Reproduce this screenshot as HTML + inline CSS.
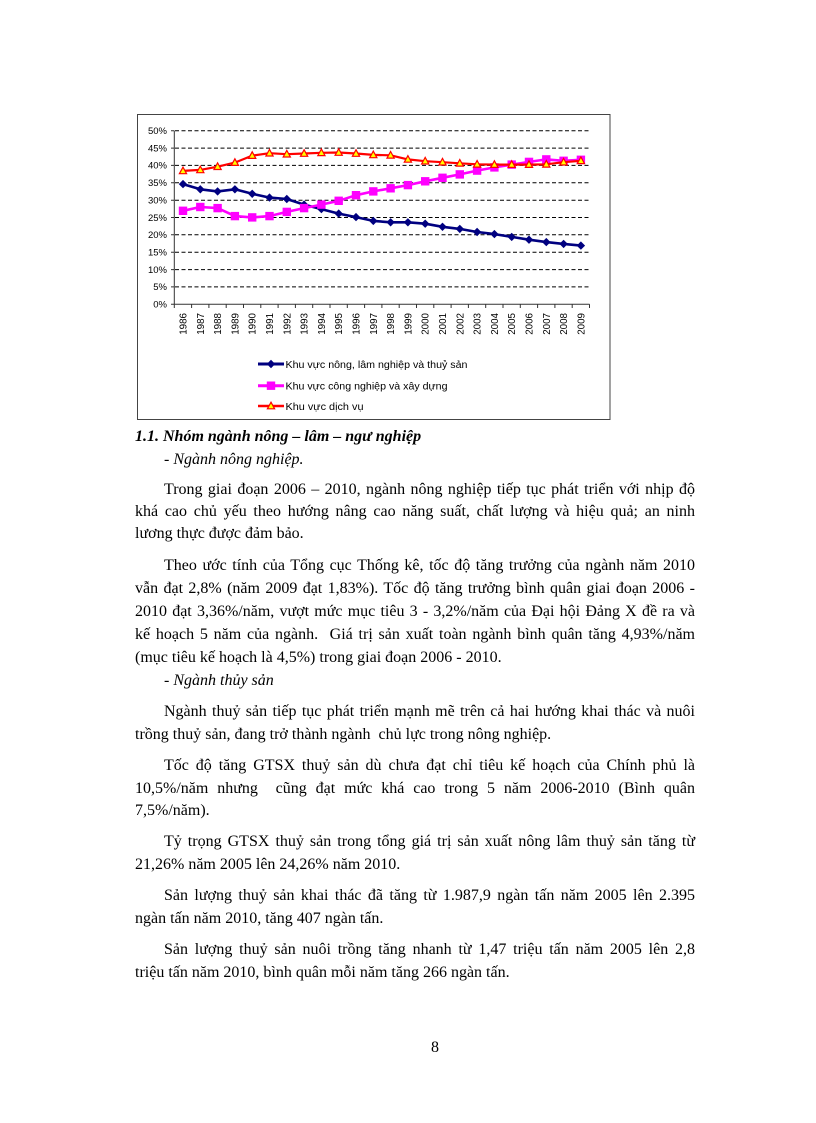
<!DOCTYPE html>
<html>
<head>
<meta charset="utf-8">
<style>
  html, body { margin:0; padding:0; background:#fff; }
  body { width:816px; height:1123px; position:relative; overflow:hidden;
         font-family:"Liberation Serif", "Noto Serif CJK SC", serif; color:#000; }
  svg.chart { position:absolute; left:0; top:0; }
  .l { position:absolute; height:22px; line-height:22px; font-size:16px; white-space:nowrap; }
  .j { text-align:justify; text-align-last:justify; }
  .f { left:135px; width:560px; }
  .i { left:164px; width:531px; }
  .h { left:135px; font-weight:bold; font-style:italic; }
  .it { font-style:italic; }
</style>
</head>
<body>
<svg class="chart" width="816" height="440" viewBox="0 0 816 440" xmlns="http://www.w3.org/2000/svg">
  <rect x="137.5" y="114.5" width="472.5" height="305" fill="#fff" stroke="#444" stroke-width="1"/>
  <g stroke="#000" stroke-width="1" stroke-dasharray="4 2.5" fill="none">
    <line x1="175" y1="130.7" x2="590" y2="130.7"/>
    <line x1="175" y1="148.1" x2="590" y2="148.1"/>
    <line x1="175" y1="165.4" x2="590" y2="165.4"/>
    <line x1="175" y1="182.8" x2="590" y2="182.8"/>
    <line x1="175" y1="200.2" x2="590" y2="200.2"/>
    <line x1="175" y1="217.5" x2="590" y2="217.5"/>
    <line x1="175" y1="234.8" x2="590" y2="234.8"/>
    <line x1="175" y1="252.2" x2="590" y2="252.2"/>
    <line x1="175" y1="269.6" x2="590" y2="269.6"/>
    <line x1="175" y1="286.9" x2="590" y2="286.9"/>
  </g>
  <g stroke="#333" stroke-width="1" fill="none">
    <line x1="174.3" y1="130.7" x2="174.3" y2="304.3"/>
    <line x1="174.3" y1="304.3" x2="589.5" y2="304.3"/>
    <path d="M171,130.7H174.3M171,148.1H174.3M171,165.4H174.3M171,182.8H174.3M171,200.2H174.3M171,217.5H174.3M171,234.8H174.3M171,252.2H174.3M171,269.6H174.3M171,286.9H174.3M171,304.3H174.3"/>
    <path d="M174.3,304.3V308M191.6,304.3V308M208.9,304.3V308M226.2,304.3V308M243.5,304.3V308M260.8,304.3V308M278.1,304.3V308M295.4,304.3V308M312.7,304.3V308M330,304.3V308M347.3,304.3V308M364.6,304.3V308M381.9,304.3V308M399.2,304.3V308M416.5,304.3V308M433.8,304.3V308M451.1,304.3V308M468.4,304.3V308M485.7,304.3V308M503,304.3V308M520.3,304.3V308M537.6,304.3V308M554.9,304.3V308M572.2,304.3V308M589.5,304.3V308"/>
  </g>
  <g font-family="Liberation Sans, sans-serif" font-size="9.5" fill="#000" text-anchor="end">
    <text x="167" y="134">50%</text>
    <text x="167" y="151.4">45%</text>
    <text x="167" y="168.7">40%</text>
    <text x="167" y="186.1">35%</text>
    <text x="167" y="203.5">30%</text>
    <text x="167" y="220.8">25%</text>
    <text x="167" y="238.1">20%</text>
    <text x="167" y="255.5">15%</text>
    <text x="167" y="272.9">10%</text>
    <text x="167" y="290.2">5%</text>
    <text x="167" y="307.6">0%</text>
  </g>
  <g font-family="Liberation Sans, sans-serif" font-size="9.8" fill="#000" text-anchor="end">
    <text transform="translate(186.5,313) rotate(-90)">1986</text>
    <text transform="translate(203.8,313) rotate(-90)">1987</text>
    <text transform="translate(221.1,313) rotate(-90)">1988</text>
    <text transform="translate(238.4,313) rotate(-90)">1989</text>
    <text transform="translate(255.7,313) rotate(-90)">1990</text>
    <text transform="translate(273,313) rotate(-90)">1991</text>
    <text transform="translate(290.3,313) rotate(-90)">1992</text>
    <text transform="translate(307.6,313) rotate(-90)">1993</text>
    <text transform="translate(324.9,313) rotate(-90)">1994</text>
    <text transform="translate(342.2,313) rotate(-90)">1995</text>
    <text transform="translate(359.5,313) rotate(-90)">1996</text>
    <text transform="translate(376.8,313) rotate(-90)">1997</text>
    <text transform="translate(394.1,313) rotate(-90)">1998</text>
    <text transform="translate(411.4,313) rotate(-90)">1999</text>
    <text transform="translate(428.7,313) rotate(-90)">2000</text>
    <text transform="translate(446,313) rotate(-90)">2001</text>
    <text transform="translate(463.3,313) rotate(-90)">2002</text>
    <text transform="translate(480.6,313) rotate(-90)">2003</text>
    <text transform="translate(497.9,313) rotate(-90)">2004</text>
    <text transform="translate(515.2,313) rotate(-90)">2005</text>
    <text transform="translate(532.5,313) rotate(-90)">2006</text>
    <text transform="translate(549.8,313) rotate(-90)">2007</text>
    <text transform="translate(567.1,313) rotate(-90)">2008</text>
    <text transform="translate(584.4,313) rotate(-90)">2009</text>
  </g>
  <defs>
    <path id="dm" d="M0,-4.2L4.2,0L0,4.2L-4.2,0Z" fill="#000080"/>
    <rect id="sq" x="-4.2" y="-4.2" width="8.4" height="8.4" fill="#FF00FF"/>
    <path id="tr" d="M0,-3.8L3.6,2.8L-3.6,2.8Z" fill="#FFFF00" stroke="#FF0000" stroke-width="1.2"/>
  </defs>
  <!-- Blue series -->
  <polyline fill="none" stroke="#000080" stroke-width="2.6" stroke-linejoin="round"
    points="183,184.1 200.3,189.3 217.6,191.4 234.9,189.3 252.2,193.8 269.5,197.6 286.8,199 304.1,204.6 321.4,209.1 338.7,213.6 356,217.1 373.3,220.9 390.6,222.3 407.9,222.3 425.2,223.7 442.5,226.8 459.8,228.9 477.1,232 494.4,234.1 511.7,236.9 529,239.7 546.3,242.1 563.6,243.9 580.9,245.6"/>
  <g>
    <use href="#dm" x="183" y="184.1"/><use href="#dm" x="200.3" y="189.3"/><use href="#dm" x="217.6" y="191.4"/><use href="#dm" x="234.9" y="189.3"/><use href="#dm" x="252.2" y="193.8"/><use href="#dm" x="269.5" y="197.6"/><use href="#dm" x="286.8" y="199"/><use href="#dm" x="304.1" y="204.6"/><use href="#dm" x="321.4" y="209.1"/><use href="#dm" x="338.7" y="213.6"/><use href="#dm" x="356" y="217.1"/><use href="#dm" x="373.3" y="220.9"/><use href="#dm" x="390.6" y="222.3"/><use href="#dm" x="407.9" y="222.3"/><use href="#dm" x="425.2" y="223.7"/><use href="#dm" x="442.5" y="226.8"/><use href="#dm" x="459.8" y="228.9"/><use href="#dm" x="477.1" y="232"/><use href="#dm" x="494.4" y="234.1"/><use href="#dm" x="511.7" y="236.9"/><use href="#dm" x="529" y="239.7"/><use href="#dm" x="546.3" y="242.1"/><use href="#dm" x="563.6" y="243.9"/><use href="#dm" x="580.9" y="245.6"/>
  </g>
  <!-- Magenta series -->
  <polyline fill="none" stroke="#FF00FF" stroke-width="2.6" stroke-linejoin="round"
    points="183,210.8 200.3,207 217.6,208.1 234.9,216.1 252.2,217.4 269.5,216.1 286.8,211.9 304.1,208.1 321.4,204.6 338.7,200.8 356,195.2 373.3,191.4 390.6,188.3 407.9,185.1 425.2,181.3 442.5,177.8 459.8,174.4 477.1,170.6 494.4,167.4 511.7,164.6 529,161.9 546.3,159.4 563.6,160.8 580.9,159.8"/>
  <g>
    <use href="#sq" x="183" y="210.8"/><use href="#sq" x="200.3" y="207"/><use href="#sq" x="217.6" y="208.1"/><use href="#sq" x="234.9" y="216.1"/><use href="#sq" x="252.2" y="217.4"/><use href="#sq" x="269.5" y="216.1"/><use href="#sq" x="286.8" y="211.9"/><use href="#sq" x="304.1" y="208.1"/><use href="#sq" x="321.4" y="204.6"/><use href="#sq" x="338.7" y="200.8"/><use href="#sq" x="356" y="195.2"/><use href="#sq" x="373.3" y="191.4"/><use href="#sq" x="390.6" y="188.3"/><use href="#sq" x="407.9" y="185.1"/><use href="#sq" x="425.2" y="181.3"/><use href="#sq" x="442.5" y="177.8"/><use href="#sq" x="459.8" y="174.4"/><use href="#sq" x="477.1" y="170.6"/><use href="#sq" x="494.4" y="167.4"/><use href="#sq" x="511.7" y="164.6"/><use href="#sq" x="529" y="161.9"/><use href="#sq" x="546.3" y="159.4"/><use href="#sq" x="563.6" y="160.8"/><use href="#sq" x="580.9" y="159.8"/>
  </g>
  <!-- Red series -->
  <polyline fill="none" stroke="#FF0000" stroke-width="2.2" stroke-linejoin="round"
    points="183,170.9 200.3,169.9 217.6,166.7 234.9,162.6 252.2,155.6 269.5,153.2 286.8,154.2 304.1,153.5 321.4,152.8 338.7,152.5 356,153.5 373.3,154.9 390.6,155.3 407.9,159.4 425.2,161.2 442.5,162.2 459.8,163.3 477.1,164.3 494.4,164.6 511.7,164.6 529,164.6 546.3,164.3 563.6,162.2 580.9,160.8"/>
  <g>
    <use href="#tr" x="183" y="170.9"/><use href="#tr" x="200.3" y="169.9"/><use href="#tr" x="217.6" y="166.7"/><use href="#tr" x="234.9" y="162.6"/><use href="#tr" x="252.2" y="155.6"/><use href="#tr" x="269.5" y="153.2"/><use href="#tr" x="286.8" y="154.2"/><use href="#tr" x="304.1" y="153.5"/><use href="#tr" x="321.4" y="152.8"/><use href="#tr" x="338.7" y="152.5"/><use href="#tr" x="356" y="153.5"/><use href="#tr" x="373.3" y="154.9"/><use href="#tr" x="390.6" y="155.3"/><use href="#tr" x="407.9" y="159.4"/><use href="#tr" x="425.2" y="161.2"/><use href="#tr" x="442.5" y="162.2"/><use href="#tr" x="459.8" y="163.3"/><use href="#tr" x="477.1" y="164.3"/><use href="#tr" x="494.4" y="164.6"/><use href="#tr" x="511.7" y="164.6"/><use href="#tr" x="529" y="164.6"/><use href="#tr" x="546.3" y="164.3"/><use href="#tr" x="563.6" y="162.2"/><use href="#tr" x="580.9" y="160.8"/>
  </g>
  <!-- Legend -->
  <line x1="258" y1="364" x2="284" y2="364" stroke="#000080" stroke-width="3"/>
  <use href="#dm" x="271" y="364"/>
  <line x1="258" y1="385.7" x2="284" y2="385.7" stroke="#FF00FF" stroke-width="3"/>
  <use href="#sq" x="271" y="385.7"/>
  <line x1="258" y1="406" x2="284" y2="406" stroke="#FF0000" stroke-width="2.5"/>
  <use href="#tr" x="271" y="406"/>
  <g font-family="Liberation Sans, sans-serif" font-size="10.5" fill="#000">
    <text x="285.5" y="367.8" textLength="182" lengthAdjust="spacingAndGlyphs">Khu vực nông, lâm nghiệp và thuỷ sản</text>
    <text x="285.5" y="389.5" textLength="162" lengthAdjust="spacingAndGlyphs">Khu vực công nghiệp và xây dựng</text>
    <text x="285.5" y="409.8" textLength="78" lengthAdjust="spacingAndGlyphs">Khu vực dịch vụ</text>
  </g>
</svg>

<div class="l h" style="top:426px;">1.1. Nhóm ngành nông – lâm – ngư nghiệp</div>
<div class="l it" style="top:449px; left:164px;">- Ngành nông nghiệp.</div>

<div class="l i j" style="top:479px;">Trong giai đoạn 2006 – 2010, ngành nông nghiệp tiếp tục phát triển với nhịp độ</div>
<div class="l f j" style="top:501px;">khá cao chủ yếu theo hướng nâng cao năng suất, chất lượng và hiệu quả; an ninh</div>
<div class="l f" style="top:523px;">lương thực được đảm bảo.</div>

<div class="l i j" style="top:555px;">Theo ước tính của Tổng cục Thống kê, tốc độ tăng trưởng của ngành năm 2010</div>
<div class="l f j" style="top:578px;">vẫn đạt 2,8% (năm 2009 đạt 1,83%). Tốc độ tăng trưởng bình quân giai đoạn 2006 -</div>
<div class="l f j" style="top:601px;">2010 đạt 3,36%/năm, vượt mức mục tiêu 3 - 3,2%/năm của Đại hội Đảng X đề ra và</div>
<div class="l f j" style="top:624px;">kế hoạch 5 năm của ngành.&nbsp; Giá trị sản xuất toàn ngành bình quân tăng 4,93%/năm</div>
<div class="l f" style="top:647px;">(mục tiêu kế hoạch là 4,5%) trong giai đoạn 2006 - 2010.</div>
<div class="l it" style="top:670px; left:164px;">- Ngành thủy sản</div>

<div class="l i j" style="top:701px;">Ngành thuỷ sản tiếp tục phát triển mạnh mẽ trên cả hai hướng khai thác và nuôi</div>
<div class="l f" style="top:724px;">trồng thuỷ sản, đang trở thành ngành&nbsp; chủ lực trong nông nghiệp.</div>

<div class="l i j" style="top:755px;">Tốc độ tăng GTSX thuỷ sản dù chưa đạt chỉ tiêu kế hoạch của Chính phủ là</div>
<div class="l f j" style="top:778px;">10,5%/năm nhưng&nbsp; cũng đạt mức khá cao trong 5 năm 2006-2010 (Bình quân</div>
<div class="l f" style="top:800px;">7,5%/năm).</div>

<div class="l i j" style="top:831px;">Tỷ trọng GTSX thuỷ sản trong tổng giá trị sản xuất nông lâm thuỷ sản tăng từ</div>
<div class="l f" style="top:854px;">21,26% năm 2005 lên 24,26% năm 2010.</div>

<div class="l i j" style="top:885px;">Sản lượng thuỷ sản khai thác đã tăng từ 1.987,9 ngàn tấn năm 2005 lên 2.395</div>
<div class="l f" style="top:908px;">ngàn tấn năm 2010, tăng 407 ngàn tấn.</div>

<div class="l i j" style="top:939px;">Sản lượng thuỷ sản nuôi trồng tăng nhanh từ 1,47 triệu tấn năm 2005 lên 2,8</div>
<div class="l f" style="top:962px;">triệu tấn năm 2010, bình quân mỗi năm tăng 266 ngàn tấn.</div>

<div class="l" style="top:1037px; left:431px;">8</div>
</body>
</html>
